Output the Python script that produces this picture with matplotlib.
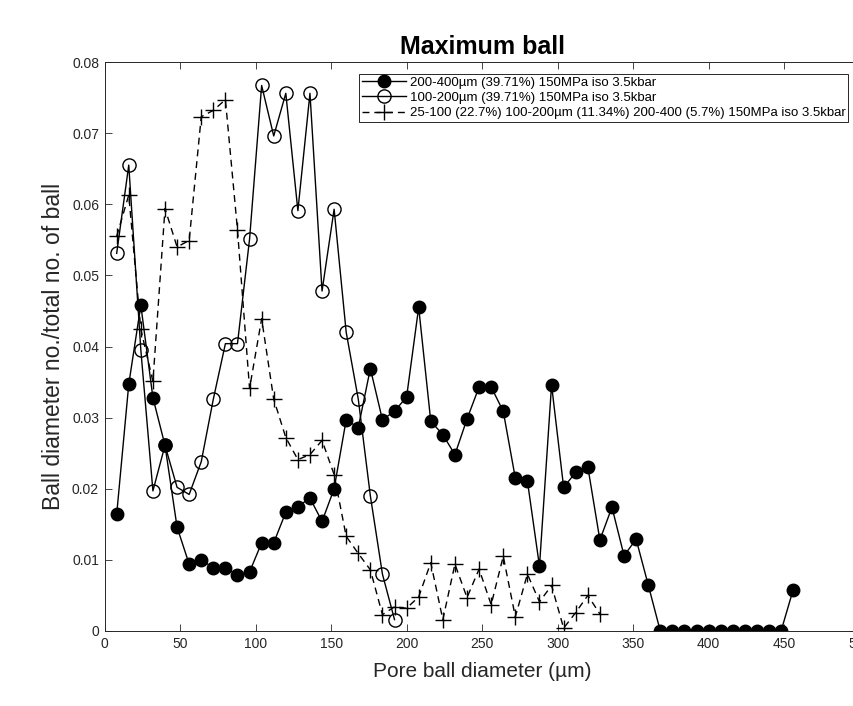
import matplotlib
matplotlib.use("Agg")
import matplotlib.pyplot as plt

plt.rcParams['font.family'] = ['Liberation Sans', 'DejaVu Sans']

# ---------------- data ----------------
diameter = [8, 16, 24, 32, 40, 48, 56, 64, 72, 80, 88, 96, 104, 112, 120, 128,
            136, 144, 152, 160, 168, 176, 184, 192, 200, 208, 216, 224, 232, 240,
            248, 256, 264, 272, 280, 288, 296, 304, 312, 320, 328, 336, 344, 352,
            360, 368, 376, 384, 392, 400, 408, 416, 424, 432, 440, 448, 456]

frac_200_400 = [0.0164, 0.0347, 0.0458, 0.0328, 0.0261, 0.0146, 0.0094, 0.0100,
                0.0089, 0.0089, 0.0079, 0.0083, 0.0124, 0.0124, 0.0167, 0.0175,
                0.0187, 0.0154, 0.0200, 0.0297, 0.0286, 0.0369, 0.0297, 0.0309,
                0.0329, 0.0455, 0.0295, 0.0276, 0.0248, 0.0298, 0.0343, 0.0343,
                0.0309, 0.0215, 0.0211, 0.0091, 0.0346, 0.0202, 0.0223, 0.0231,
                0.0128, 0.0174, 0.0106, 0.0129, 0.0065, 0.0, 0.0, 0.0, 0.0, 0.0,
                0.0, 0.0, 0.0, 0.0, 0.0, 0.0, 0.0058]

frac_100_200 = [0.0531, 0.0655, 0.0395, 0.0197, 0.0261, 0.0202, 0.0192, 0.0238,
                0.0326, 0.0404, 0.0404, 0.0551, 0.0767, 0.0696, 0.0756, 0.0591,
                0.0756, 0.0478, 0.0593, 0.0420, 0.0326, 0.0190, 0.0080, 0.0016]

frac_mixed = [0.0555, 0.0613, 0.0424, 0.0351, 0.0594, 0.0540, 0.0549, 0.0723,
              0.0732, 0.0747, 0.0564, 0.0341, 0.0439, 0.0326, 0.0272, 0.0241,
              0.0248, 0.0268, 0.0220, 0.0133, 0.0109, 0.0086, 0.0023, 0.0034,
              0.0032, 0.0048, 0.0096, 0.0016, 0.0094, 0.0047, 0.0087, 0.0037,
              0.0105, 0.0020, 0.0080, 0.0041, 0.0064, 0.0004, 0.0026, 0.0050,
              0.0024]

labels = ['200-400µm (39.71%) 150MPa iso 3.5kbar',
          '100-200µm (39.71%) 150MPa iso 3.5kbar',
          '25-100 (22.7%) 100-200µm (11.34%) 200-400 (5.7%) 150MPa iso 3.5kbar']

# ---------------- figure ----------------
W, H = 854, 706
fig = plt.figure(figsize=(W / 100, H / 100), dpi=100)
# axes: left 104.6px, right ~860px (cut off by the figure edge), top 62px, bottom 631px
ax = fig.add_axes([104.6 / W, (H - 631) / H, 755 / W, 569 / H])

axcol = '#262626'
ax.plot(diameter[:len(frac_200_400)], frac_200_400, '-o', color='k', lw=1.0,
        ms=9, mfc='k', mec='k', label=labels[0])
ax.plot(diameter[:len(frac_100_200)], frac_100_200, '-o', color='k', lw=1.0,
        ms=9.5, mfc='none', mec='k', mew=1.0, label=labels[1])
ax.plot(diameter[:len(frac_mixed)], frac_mixed, '--+', color='k', lw=1.0,
        ms=11, mew=1.0, dashes=(5, 3.5), label=labels[2])

ax.set_xlim(0, 500)
ax.set_ylim(0, 0.08)
ax.set_xticks(range(0, 501, 50))
ax.set_yticks([0, 0.01, 0.02, 0.03, 0.04, 0.05, 0.06, 0.07, 0.08])
ax.set_yticklabels(['0', '0.01', '0.02', '0.03', '0.04', '0.05', '0.06', '0.07', '0.08'])

ax.tick_params(direction='in', top=True, right=True, length=5, width=0.6,
               colors=axcol, labelsize=10, pad=4)
for s in ax.spines.values():
    s.set_color(axcol)
    s.set_linewidth(0.7)

ax.set_title('Maximum ball', fontsize=18, fontweight='bold', pad=6)
ax.set_xlabel('Pore ball diameter (µm)', fontsize=15, color=axcol, labelpad=8)
ax.set_ylabel('Ball diameter no./total no. of ball', fontsize=16.5, color=axcol,
              labelpad=5)

leg = ax.legend(loc='upper right', bbox_to_anchor=(848 / W, 1 - 74 / H),
                bbox_transform=fig.transFigure, borderaxespad=0, fontsize=9.5,
                handlelength=3.3, handletextpad=0.3, labelspacing=0.22,
                borderpad=0.2, fancybox=False, framealpha=1, edgecolor=axcol)
leg.get_frame().set_linewidth(0.7)

fig.savefig('out.png', dpi=100)
